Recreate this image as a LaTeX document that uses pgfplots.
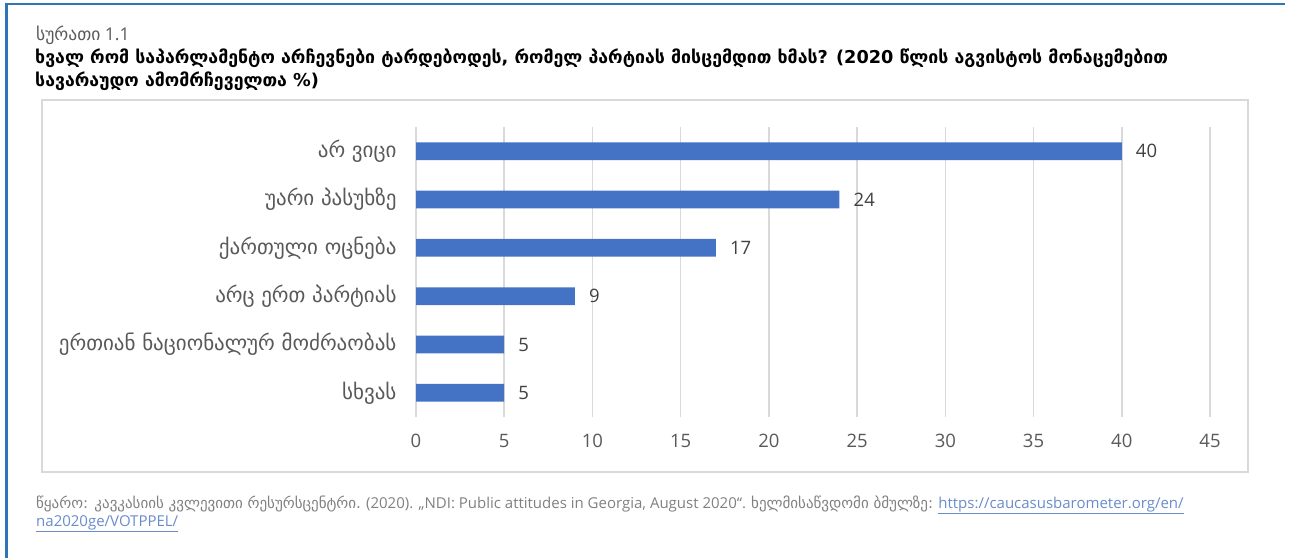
\documentclass[border=0pt]{standalone}
\usepackage{fontspec}
\setmainfont{Open Sans}
\newfontfamily\geo{DejaVu Sans}
\usepackage{pgfplots}
\pgfplotsset{compat=1.18}
\definecolor{barblue}{HTML}{4472C4}
\definecolor{gridgray}{HTML}{D9D9D9}
\definecolor{frameblue}{HTML}{2E75B6}
\definecolor{ticktext}{HTML}{595959}
\definecolor{valtext}{HTML}{404040}
\definecolor{footgray}{HTML}{808080}
\definecolor{linkblue}{HTML}{6A8CCB}

\begin{document}
\begin{tikzpicture}[x=1pt,y=1pt]
\path[use as bounding box] (0,0) rectangle (1290,558);
% outer frame (left and top only)
\fill[frameblue] (5,0) rectangle (7.5,555);
\fill[frameblue] (5,552.5) rectangle (1285,555);
% chart area box
\draw[gridgray, line width=1.5pt] (42,86) rectangle (1248,458);

% titles
\node[anchor=base west, inner sep=0, text=ticktext, font=\fontsize{17.5}{19}\selectfont]
  at (36,517) {{\geo სურათი} 1.1};
\node[anchor=base west, inner sep=0, text=black, font=\geo\bfseries\fontsize{17.7}{24}\selectfont]
  at (35,494) {ხვალ რომ საპარლამენტო არჩევნები ტარდებოდეს, რომელ პარტიას მისცემდით ხმას? (2020 წლის აგვისტოს მონაცემებით};
\node[anchor=base west, inner sep=0, text=black, font=\geo\bfseries\fontsize{17.7}{24}\selectfont]
  at (35,471) {სავარაუდო ამომრჩეველთა \%)};

% footer
\node[anchor=base west, inner sep=0, text=footgray, font=\fontsize{15}{16}\selectfont]
  at (36,50) {{\geo წყარო: კავკასიის კვლევითი რესურსცენტრი.} (2020). „NDI: Public attitudes in Georgia, August 2020“. {\geo ხელმისაწვდომი ბმულზე:} \textcolor{linkblue}{\underline{https://caucasusbarometer.org/en/}}};
\node[anchor=base west, inner sep=0, text=footgray, font=\fontsize{15}{16}\selectfont]
  at (36,32) {\textcolor{linkblue}{\underline{na2020ge/VOTPPEL/}}};

\begin{axis}[
    at={(416pt,141pt)}, anchor=south west,
    scale only axis,
    width=794pt, height=290pt,
    xbar,
    bar width=17.7pt,
    xmin=0, xmax=45,
    ymin=-0.5, ymax=5.5,
    y dir=reverse,
    xtick={0,5,...,45},
    ytick={0,1,2,3,4,5},
    yticklabels={
        {არ ვიცი},
        {უარი პასუხზე},
        {ქართული ოცნება},
        {არც ერთ პარტიას},
        {ერთიან ნაციონალურ მოძრაობას},
        {სხვას}},
    /pgf/number format/assume math mode=true,
    xmajorgrids=true,
    grid style={gridgray, line width=1.5pt},
    axis line style={draw=none},
    major tick length=0pt,
    tick style={draw=none},
    xticklabel style={font=\fontsize{18.5}{20}\selectfont, text=ticktext, yshift=-14pt},
    yticklabel style={font=\geo\fontsize{21}{22}\selectfont, text=ticktext, xshift=-16pt},
    nodes near coords,
    nodes near coords style={font=\fontsize{18.5}{20}\selectfont, text=valtext,
        anchor=west, inner sep=0pt, xshift=14pt},
    clip=false,
]
\addplot[fill=barblue, draw=none] coordinates {
    (40,0) (24,1) (17,2) (9,3) (5,4) (5,5)
};
\end{axis}
\end{tikzpicture}
\end{document}
